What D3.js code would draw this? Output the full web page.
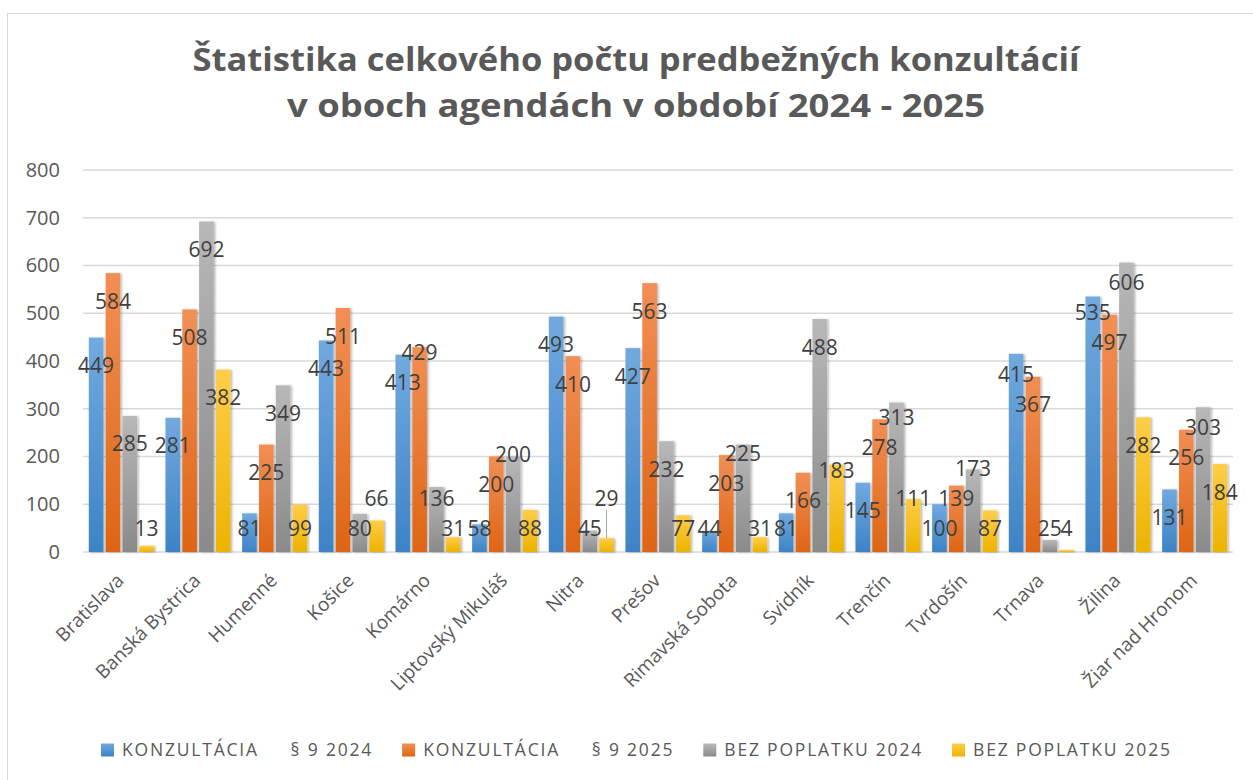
<!DOCTYPE html>
<html>
<head>
<meta charset="utf-8">
<script src="https://cdn.jsdelivr.net/npm/d3@7"></script>
<style>
  body { margin: 0; background: #fff; }
  text { font-family: "Open Sans", sans-serif; }
</style>
</head>
<body>
<div id="chart"></div>
<script>
const categories = ['Bratislava', 'Banská Bystrica', 'Humenné', 'Košice', 'Komárno', 'Liptovský Mikuláš',
  'Nitra', 'Prešov', 'Rimavská Sobota', 'Svidník', 'Trenčín', 'Tvrdošín', 'Trnava', 'Žilina', 'Žiar nad Hronom'];
const konz2024 = [449, 281, 81, 443, 413, 58, 493, 427, 44, 81, 145, 100, 415, 535, 131];
const konz2025 = [584, 508, 225, 511, 429, 200, 410, 563, 203, 166, 278, 139, 367, 497, 256];
const bez2024 = [285, 692, 349, 80, 136, 200, 45, 232, 225, 488, 313, 173, 25, 606, 303];
const bez2025 = [13, 382, 99, 66, 31, 88, 29, 77, 31, 183, 111, 87, 4, 282, 184];
const seriesNames = ['KONZULTÁCIA     § 9 2024', 'KONZULTÁCIA     § 9 2025', 'BEZ POPLATKU 2024', 'BEZ POPLATKU 2025'];
const yTicks = [0, 100, 200, 300, 400, 500, 600, 700, 800];
const titleLines = ['Štatistika celkového počtu predbežných konzultácií', 'v oboch agendách v období 2024 - 2025'];

const series = [
  { key: 's0', name: seriesNames[0], values: konz2024, top: '#72a9df', bottom: '#3d83c6' },
  { key: 's1', name: seriesNames[1], values: konz2025, top: '#f28f55', bottom: '#de6514' },
  { key: 's2', name: seriesNames[2], values: bez2024, top: '#b8b8b8', bottom: '#8a8a8a' },
  { key: 's3', name: seriesNames[3], values: bez2025, top: '#ffcd48', bottom: '#ecb300' },
];

const width = 1253, height = 780;
const svg = d3.select('#chart').append('svg').attr('width', width).attr('height', height);

const defs = svg.append('defs');
series.forEach(s => {
  const g = defs.append('linearGradient').attr('id', 'g' + s.key)
    .attr('x1', 0).attr('y1', 0).attr('x2', 0).attr('y2', 1);
  g.append('stop').attr('offset', '0%').attr('stop-color', s.top);
  g.append('stop').attr('offset', '100%').attr('stop-color', s.bottom);
});
const sh = defs.append('filter').attr('id', 'shadow').attr('x', '-30%').attr('y', '-10%').attr('width', '160%').attr('height', '120%');
sh.append('feDropShadow').attr('dx', 1.5).attr('dy', 0.5).attr('stdDeviation', 1.2).attr('flood-opacity', 0.3);

// chart frame
svg.append('rect').attr('x', 7.5).attr('y', 13.5).attr('width', 1300).attr('height', 900)
  .attr('fill', '#fff').attr('stroke', '#d9d9d9');

// title
const title = svg.append('g').attr('fill', '#595959').attr('font-weight', 700).attr('font-size', 33);
title.selectAll('text').data(titleLines).join('text')
  .attr('x', 636).attr('y', (d, i) => 71 + i * 46)
  .attr('text-anchor', 'middle')
  .attr('textLength', (d, i) => i === 0 ? 887 : 698)
  .attr('lengthAdjust', 'spacingAndGlyphs')
  .text(d => d);

const x0 = d3.scaleBand().domain(categories).range([83, 1233]);
const x1 = d3.scaleBand().domain(series.map(s => s.key)).range([5.8, x0.bandwidth() - 5.8]).paddingInner(0.13);
const y = d3.scaleLinear().domain([0, 800]).range([552, 170]);

// gridlines
svg.append('g').selectAll('line').data(yTicks).join('line')
  .attr('x1', 83).attr('x2', 1233).attr('y1', d => y(d)).attr('y2', d => y(d))
  .attr('stroke', '#d9d9d9').attr('stroke-width', d => d === 0 ? 1.6 : 1.3);

const yAxis = svg.append('g').attr('transform', 'translate(83,0)')
  .call(d3.axisLeft(y).tickValues(yTicks).tickSize(0).tickPadding(23));
yAxis.select('.domain').remove();
yAxis.selectAll('text').attr('font-size', 20).attr('fill', '#595959').attr('font-family', '"Open Sans", sans-serif');

// bars
const groups = svg.append('g').selectAll('g').data(categories).join('g')
  .attr('transform', d => `translate(${x0(d)},0)`);
groups.selectAll('rect').data((c, i) => series.map(s => ({ s, v: s.values[i] }))).join('rect')
  .attr('x', d => x1(d.s.key)).attr('width', x1.bandwidth())
  .attr('y', d => y(d.v)).attr('height', d => y(0) - y(d.v))
  .attr('fill', d => `url(#g${d.s.key})`).attr('filter', 'url(#shadow)');

// x labels
svg.append('g').selectAll('text').data(categories).join('text')
  .attr('transform', d => `translate(${x0(d) + x0.bandwidth() / 2 - 1},${577}) rotate(-45)`)
  .attr('text-anchor', 'end').attr('dy', '0.35em')
  .attr('font-size', 19).attr('fill', '#595959')
  .text(d => d);

// data labels with simple overlap avoidance
const labels = [];
categories.forEach((c, i) => series.forEach(s => {
  const v = s.values[i];
  const top = y(v);
  labels.push({
    v, top,
    cx: x0(c) + x1(s.key) + x1.bandwidth() / 2,
    w: String(v).length * 12,
    y: Math.min(top + 28, y(0) - 24),
  });
}));
for (let pass = 0; pass < 20; pass++) {
  let moved = false;
  for (let a = 0; a < labels.length; a++) {
    for (let b = a + 1; b < labels.length; b++) {
      const A = labels[a], B = labels[b];
      if (Math.abs(A.cx - B.cx) >= (A.w + B.w) / 2 - 2) continue;
      if (Math.abs(A.y - B.y) >= 26) continue;
      let up, other;
      if (A.y < B.y) { up = A; other = B; } else { up = B; other = A; }
      up.y = other.y - 30;
      moved = true;
    }
  }
  if (!moved) break;
}
const lab = svg.append('g');
lab.selectAll('line').data(labels.filter(l => l.top - (l.y + 12) > 14)).join('line')
  .attr('x1', d => d.cx).attr('x2', d => d.cx).attr('y1', d => d.y + 12).attr('y2', d => d.top)
  .attr('stroke', '#a6a6a6').attr('stroke-width', 1);
lab.selectAll('text').data(labels).join('text')
  .attr('x', d => d.cx).attr('y', d => d.y).attr('dy', '0.36em')
  .attr('text-anchor', 'middle').attr('font-size', 21).attr('fill', '#404040')
  .text(d => d.v);

// legend
const legend = svg.append('g').attr('transform', 'translate(0,750)');
let lx = 101;
series.forEach(s => {
  const it = legend.append('g').attr('transform', `translate(${lx},0)`);
  it.append('rect').attr('x', 0).attr('y', -6.5).attr('width', 13).attr('height', 13).attr('fill', `url(#g${s.key})`);
  const t = it.append('text').attr('x', 21).attr('dy', '0.36em').attr('font-size', 17.5)
    .attr('fill', '#595959').attr('letter-spacing', 1.8).style('white-space', 'pre').text(s.name);
  lx += 21 + t.node().getComputedTextLength() + 29;
});
</script>
</body>
</html>
